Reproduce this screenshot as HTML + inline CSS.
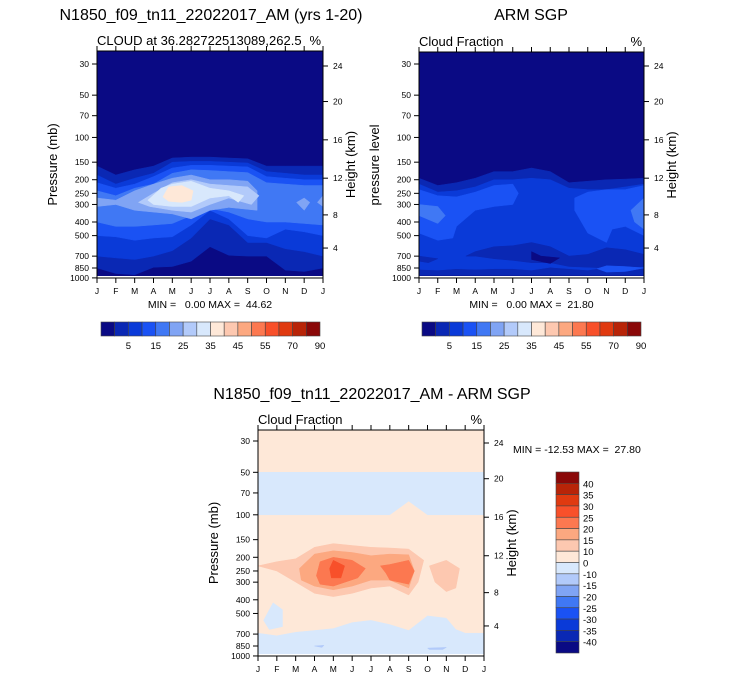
<!DOCTYPE html>
<html><head><meta charset="utf-8"><style>
html,body{margin:0;padding:0;background:#fff;}
svg{display:block;font-family:"Liberation Sans",sans-serif;}
text{white-space:pre;}
</style></head><body>
<svg id="fig" width="733" height="680" viewBox="0 0 733 680" xmlns="http://www.w3.org/2000/svg"></svg>
<script>
const months=["J","F","M","A","M","J","J","A","S","O","N","D","J"];
const pTicks=[30,50,70,100,150,200,250,300,400,500,700,850,1000];
const hTicks=[24,20,16,12,8,4];
const hTickPressure=[31,55.5,104,195,356,613];
const absLevels=["5","15","25","35","45","55","70","90"];
const diffLevels=["40","35","30","25","20","15","10","0","-10","-15","-20","-25","-30","-35","-40"];
const absColors=["#0a0a84","#0a28b4","#0a3ad8","#1a52f4","#4078f4","#80a4f4","#b2cafa","#d8e8fc","#fee8d8","#fdc8b0","#fca880","#fc7850","#f8502a","#e03a10","#b82408","#8a0808"];
const diffColors=absColors.slice().reverse();
// contour regions: [colorIndex, [[monthIndex, pressure],...]]
const modelLayers=[
 [1,[[0,160],[1,185],[2,170],[3,160],[4,140],[5,138],[6,138],[7,140],[8,142],[9,160],[10,160],[11,160],[12,160],[12,850],[11,900],[10,880],[9,700],[8,700],[7,690],[6,600],[5,760],[4,830],[3,840],[2,950],[1,930],[0,850]]],
 [2,[[0,185],[1,215],[2,195],[3,180],[4,150],[5,148],[6,148],[7,150],[8,152],[9,175],[10,180],[11,185],[12,185],[12,700],[11,650],[10,620],[9,560],[8,560],[7,420],[6,380],[5,520],[4,640],[3,700],[2,740],[1,720],[0,700]]],
 [3,[[0,210],[1,230],[2,215],[3,190],[4,165],[5,158],[6,158],[7,160],[8,162],[9,190],[10,195],[11,200],[12,200],[12,500],[11,470],[10,450],[9,520],[8,500],[7,380],[6,330],[5,420],[4,510],[3,520],[2,540],[1,510],[0,500]]],
 [4,[[0,240],[1,260],[2,230],[3,215],[4,180],[5,170],[6,172],[7,175],[8,178],[9,210],[10,215],[11,220],[12,220],[12,420],[11,410],[10,400],[9,400],[8,380],[7,340],[6,320],[5,360],[4,410],[3,420],[2,430],[1,430],[0,400]]],
 [5,[[0,270],[1,280],[2,240],[3,215],[4,195],[5,185],[6,200],[7,200],[8,205],[8.5,240],[8.5,330],[7,315],[6,330],[5,380],[4,350],[3,340],[2,330],[1,300],[0,310]]],
 [5,[[10.6,290],[11,270],[11.3,290],[11,330]]],
 [5,[[12,260],[11.7,290],[12,310]]],
 [6,[[2.2,290],[3,250],[4,210],[5,200],[6,215],[7,220],[8,225],[8.6,260],[8.2,300],[7,270],[6,300],[5,340],[4,330],[2.8,310]]],
 [7,[[2.7,280],[3.4,230],[4,215],[5,205],[6,230],[7,240],[7.8,260],[7.5,290],[7,260],[6,270],[5,310],[4,310],[3,300]]],
 [8,[[3.5,265],[3.8,225],[4.5,220],[5.1,240],[5,280],[4.5,290],[3.8,285]]]
];
const armLayers=[
 [1,[[0,195],[1,220],[2,210],[3,195],[4,175],[5,175],[6,165],[7,175],[8,210],[9,205],[10,200],[11,198],[12,195],[12,960],[0,960]]],
 [2,[[0,215],[1,245],[2,240],[3,225],[4,200],[5,200],[6,195],[7,200],[8,230],[9,235],[10,235],[11,225],[12,215],[12,850],[11,860],[10,840],[9,880],[8,860],[7,840],[6,880],[5,860],[4,860],[3,870],[2,860],[1,880],[0,870]]],
 [1,[[2.5,700],[3,650],[4,600],[5,590],[6,560],[7,600],[8,700],[9,680],[10,610],[11,630],[12,680],[12,830],[10,850],[8,830],[7,780],[6,780],[5,750],[4,730],[3,700]]],
 [1,[[0,700],[1,730],[0.5,780],[0,760]]],
 [0,[[6,650],[6.5,700],[7.5,720],[7,790],[6,740]]],
 [3,[[0,235],[1,260],[2,265],[3,245],[4,220],[5,215],[5.3,250],[5,300],[4,310],[3,330],[2,430],[1.8,520],[1,540],[0,480]]],
 [3,[[8.3,270],[9,245],[10,235],[11,235],[12,220],[12,500],[11,430],[10.3,450],[10,560],[9,480],[8.3,330]]],
 [3,[[9.5,860],[10,820],[11,830],[12,850],[11,900],[10,910]]],
 [4,[[0,300],[1,310],[1.4,360],[1,410],[0,360]]],
 [4,[[11.3,330],[12,270],[12,450],[11.5,400]]]
];
const diffLayers=[
 [7,[[0,50],[12,50],[12,100],[9,100],[8,80],[7,100],[0,100]]],
 [7,[[0,690],[1,720],[2,680],[3,660],[4,640],[5,580],[6,560],[7,600],[8,660],[9,520],[10,540],[10.5,650],[11,690],[12,690],[12,990],[0,990]]],
 [7,[[0.3,560],[0.8,420],[1.3,470],[1.3,620],[0.6,650]]],
 [6,[[3,850],[3.5,840],[3.4,870]]],
 [6,[[9,880],[10,870],[9.8,900],[9.1,900]]],
 [9,[[0,230],[1,215],[2,205],[3,170],[4,160],[5,165],[6,170],[7,172],[8,175],[8.8,210],[8.5,300],[8,370],[7,320],[6,330],[5,360],[4,380],[3,360],[2,300],[1,250]]],
 [9,[[9.1,230],[10,210],[10.7,240],[10.5,330],[10,350],[9.4,300]]],
 [10,[[2.2,240],[3,190],[4,180],[5,185],[6,195],[7,190],[8,192],[8.3,250],[8,330],[7,290],[6,290],[5,320],[4,340],[3,320],[2.3,290]]],
 [11,[[3.1,270],[3.3,215],[4,200],[5,210],[5.7,240],[5.3,280],[4,320],[3.3,310]]],
 [11,[[6.5,230],[7,225],[8,210],[8.3,250],[8,310],[7,290],[6.8,260]]],
 [12,[[3.8,240],[4,210],[4.6,230],[4.4,280],[3.9,280]]]
];
const NS="http://www.w3.org/2000/svg";
const svg=document.getElementById("fig");
function el(tag,attrs,parent,text){const e=document.createElementNS(NS,tag);for(const k in attrs)e.setAttribute(k,attrs[k]);if(text!==undefined)e.textContent=text;(parent||svg).appendChild(e);return e;}
function makePanel(o){
 const g=el("g",{});
 
 
 const x=i=>o.x0+i*(o.x1-o.x0)/12;
 const y=p=>o.y30+o.k*Math.log(p/30);
 const cid="clip"+o.name;
 const cp=el("clipPath",{id:cid},g);el("rect",{x:o.x0,y:o.y0,width:o.x1-o.x0,height:o.y1-o.y0},cp);
 const bg=el("rect",{x:o.x0,y:o.y0,width:o.x1-o.x0,height:o.y1-o.y0,fill:o.colors[o.bg]},g);
 
 
 const lg=el("g",{"clip-path":"url(#"+cid+")"},g);
 o.layers.forEach(L=>{
  const pts=L[1].map(q=>x(q[0]).toFixed(1)+","+y(q[1]).toFixed(1)).join(" ");
  const pg=el("polygon",{points:pts,fill:o.colors[L[0]],stroke:o.colors[L[0]],"stroke-width":0.5,"stroke-linejoin":"round"},lg);
  
  
 });
 el("rect",{x:o.x0,y:o.y1-2,width:o.x1-o.x0,height:2,fill:"#fff"},lg);
 el("rect",{x:o.x0,y:o.y0,width:o.x1-o.x0,height:o.y1-o.y0,fill:"none",stroke:"#000","stroke-width":1},g);
 pTicks.forEach(p=>{
  el("line",{x1:o.x0-5,x2:o.x0,y1:y(p),y2:y(p),stroke:"#000"},g);
  const t=el("text",{x:o.x0-8,y:y(p)+3,"font-size":8.5,"text-anchor":"end"},g,p);
  
  
 });
 hTicks.forEach((h,i)=>{
  const yy=y(hTickPressure[i]);
  el("line",{x1:o.x1,x2:o.x1+5,y1:yy,y2:yy,stroke:"#000"},g);
  const t=el("text",{x:o.x1+10,y:yy+3,"font-size":8.5},g,h);
  
  
 });
 months.forEach((m,i)=>{
  el("line",{x1:x(i),x2:x(i),y1:o.y1,y2:o.y1+5,stroke:"#000"},g);
  el("line",{x1:x(i),x2:x(i),y1:o.y0,y2:o.y0-5,stroke:"#000"},g);
  const t=el("text",{x:x(i),y:o.y1+16,"font-size":8.5,"text-anchor":"middle"},g,m);
  
  
 });
 const yc=(o.y0+o.y1)/2;
 const yl=el("text",{x:0,y:0,"font-size":13,"text-anchor":"middle",transform:`translate(${o.x0-40},${yc}) rotate(-90)`},g,o.ylab);
 
 
 const hl=el("text",{x:0,y:0,"font-size":13,"text-anchor":"middle",transform:`translate(${o.x1+32},${yc}) rotate(-90)`},g,"Height (km)");
 
 
 const st=el("text",{x:o.x0,y:o.y0-6,"font-size":13},g,o.sub);
 
 
 const pc=el("text",{x:o.x1-2,y:o.y0-6,"font-size":13,"text-anchor":"end"},g,"%");
 
 
 const tt=el("text",{x:o.tx,y:o.ty,"font-size":16,"text-anchor":"middle"},g,o.title);
 
 
 if(o.mm){const mm=el("text",{x:(o.x0+o.x1)/2,y:o.y1+30,"font-size":10.5,"text-anchor":"middle"},g,o.mm);
 
 }
 return g;
}
function hBar(x0,x1,y0,h,name){
 const g=el("g",{});
 
 
 const w=(x1-x0)/absColors.length;
 absColors.forEach((c,i)=>{const r=el("rect",{x:x0+i*w,y:y0,width:w,height:h,fill:c,stroke:"#444","stroke-width":0.6},g);
  
  });
 absLevels.forEach((l,i)=>{const t=el("text",{x:x0+(2*i+2)*w,y:y0+h+13,"font-size":9.5,"text-anchor":"middle"},g,l);
  
  });
}
makePanel({name:"model-panel",x0:97,x1:323,y0:51,y1:278,y30:64,k:61,layers:modelLayers,colors:absColors,bg:0,
 ylab:"Pressure (mb)",sub:"CLOUD at 36.282722513089,262.5",title:"N1850_f09_tn11_22022017_AM (yrs 1-20)",tx:211,ty:20,mm:"MIN =   0.00 MAX =  44.62"});
makePanel({name:"arm-panel",x0:419,x1:644,y0:52,y1:278,y30:64,k:61,layers:armLayers,colors:absColors,bg:0,
 ylab:"pressure level",sub:"Cloud Fraction",title:"ARM SGP",tx:531,ty:20,mm:"MIN =   0.00 MAX =  21.80"});
makePanel({name:"diff-panel",x0:258,x1:484,y0:430,y1:656,y30:441,k:61.3,layers:diffLayers,colors:absColors,bg:8,
 ylab:"Pressure (mb)",sub:"Cloud Fraction",title:"N1850_f09_tn11_22022017_AM - ARM SGP",tx:372,ty:399,mm:null});
hBar(101,320,322,14,"model-colorbar");
hBar(422,641,322,14,"arm-colorbar");
const vg=el("g",{});


const vh=(653-472)/diffColors.length;
diffColors.forEach((c,i)=>{const r=el("rect",{x:556,y:472+i*vh,width:23,height:vh,fill:c,stroke:"#444","stroke-width":0.6},vg);
 
 });
diffLevels.forEach((l,i)=>{const t=el("text",{x:583,y:472+(i+1)*vh+4,"font-size":9.5},vg,l);
 
 });
const dm=el("text",{x:513,y:453,"font-size":10.5},svg,"MIN = -12.53 MAX =  27.80");


</script>
</body></html>
